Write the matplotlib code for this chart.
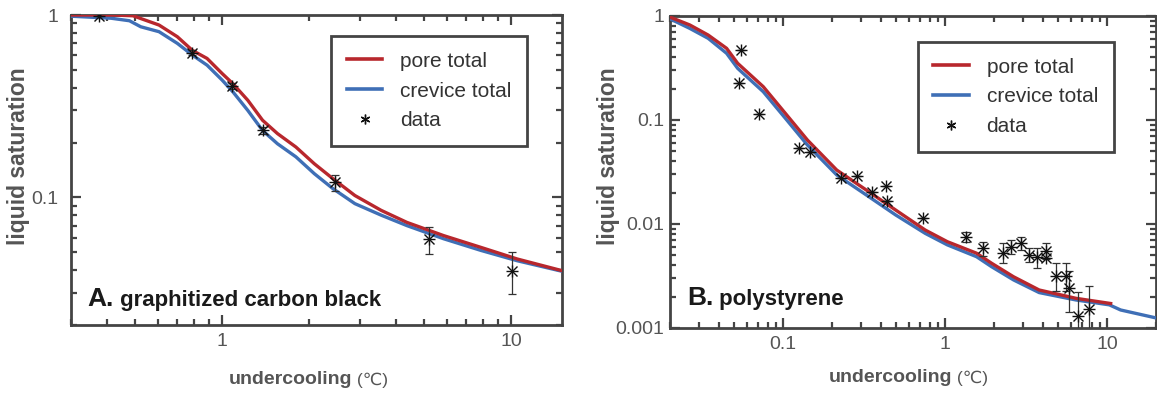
import matplotlib
matplotlib.use('Agg')
import matplotlib.pyplot as plt
from matplotlib.lines import Line2D
from matplotlib.ticker import LogLocator, NullFormatter

plt.rcParams['font.family'] = ['Liberation Sans', 'DejaVu Sans']

# Panel A: graphitized carbon black
a_pore_x = [0.30, 0.419, 0.492, 0.605, 0.70, 0.789, 0.887, 1.0, 1.09, 1.227, 1.38, 1.554,
            1.8, 2.085, 2.414, 2.88, 3.55, 4.36, 5.84, 7.85, 10.5, 15.0]
a_pore_y = [1.0, 1.0, 0.99, 0.881, 0.76, 0.64, 0.578, 0.478, 0.42, 0.341, 0.265, 0.224,
            0.189, 0.153, 0.127, 0.1025, 0.085, 0.073, 0.0618, 0.0533, 0.046, 0.0397]
a_crev_x = [0.30, 0.413, 0.478, 0.523, 0.605, 0.70, 0.789, 0.887, 1.0, 1.09, 1.227, 1.38,
            1.554, 1.8, 2.085, 2.414, 2.88, 3.55, 4.36, 5.84, 7.85, 10.5, 15.0]
a_crev_y = [0.985, 0.96, 0.93, 0.862, 0.81, 0.699, 0.603, 0.531, 0.44, 0.379, 0.30, 0.233,
            0.197, 0.167, 0.135, 0.112, 0.0925, 0.080, 0.0701, 0.0594, 0.0513, 0.045, 0.0394]
a_data_x = [0.375, 0.789, 1.08, 1.38, 2.45, 5.19, 10.1]
a_data_y = [0.99, 0.62, 0.407, 0.233, 0.121, 0.0594, 0.0397]
a_err_lo = [0.0, 0.02, 0.015, 0.01, 0.012, 0.0104, 0.0102]
a_err_hi = [0.0, 0.02, 0.015, 0.01, 0.011, 0.0092, 0.0103]

# Panel B: polystyrene
b_pore_x = [0.0197, 0.0265, 0.0344, 0.0447, 0.0523, 0.0753, 0.103, 0.141, 0.214, 0.326,
            0.495, 0.752, 1.03, 1.56, 1.93, 2.64, 3.8, 6.41, 10.5]
b_pore_y = [0.985, 0.82, 0.656, 0.489, 0.351, 0.209, 0.116, 0.0642, 0.033, 0.0212,
            0.0136, 0.00875, 0.00676, 0.00524, 0.0042, 0.00311, 0.00232, 0.00193, 0.00172]
b_crev_x = [0.0197, 0.0265, 0.0344, 0.0447, 0.0523, 0.0753, 0.103, 0.141, 0.214, 0.326,
            0.495, 0.752, 1.03, 1.56, 1.93, 2.64, 3.8, 6.41, 10.3, 12.1, 20.0]
b_crev_y = [0.95, 0.76, 0.61, 0.438, 0.314, 0.187, 0.104, 0.0575, 0.0296, 0.019,
            0.0122, 0.00813, 0.0063, 0.00485, 0.00389, 0.0029, 0.00219, 0.00186, 0.00167,
            0.00149, 0.00125]
b_data_x = [0.0545, 0.0536, 0.0707, 0.126, 0.147, 0.226, 0.286, 0.352, 0.428, 0.434, 0.725,
            1.35, 1.71, 2.27, 2.54, 2.92, 3.27, 3.7, 4.17, 4.2, 4.84, 5.53, 5.8, 6.61, 7.77]
b_data_y = [0.471, 0.228, 0.113, 0.0542, 0.0496, 0.0279, 0.029, 0.0202, 0.0234, 0.0165, 0.01135,
            0.00755, 0.00583, 0.0053, 0.00605, 0.00652, 0.00504, 0.00485, 0.00554, 0.00476,
            0.00318, 0.00318, 0.00241, 0.00131, 0.00152]
b_err_lo = [0, 0, 0, 0, 0, 0, 0, 0, 0, 0, 0,
            0.0008, 0.0009, 0.0011, 0.0009, 0.0009, 0.0007, 0.0011, 0.0009, 0.0, 0.0009,
            0.0009, 0.0010, 0.0004, 0.0006]
b_err_hi = [0, 0, 0, 0, 0, 0, 0, 0, 0, 0, 0,
            0.0009, 0.0009, 0.0012, 0.0010, 0.0009, 0.0008, 0.0010, 0.0010, 0.0, 0.0010,
            0.0010, 0.0011, 0.0009, 0.0010]

RED = '#b8272d'
BLUE = '#3f6fb6'
SPINE = '#444444'
TICKTXT = '#555555'

fig = plt.figure(figsize=(11.57, 3.94), dpi=100)
axA = fig.add_axes([71 / 1157, 69 / 394, 491 / 1157, 310 / 394])
axB = fig.add_axes([670 / 1157, 66 / 394, 486 / 1157, 312 / 394])


def style_axes(ax, ypad):
    ax.set_xscale('log')
    ax.set_yscale('log')
    for s in ax.spines.values():
        s.set_color(SPINE)
        s.set_linewidth(2.0)
    ax.tick_params(which='both', direction='in', top=True, right=True,
                   color=SPINE, width=1.6)
    ax.tick_params(which='major', length=7)
    ax.tick_params(which='minor', length=4)
    ax.tick_params(axis='x', labelsize=14, labelcolor=TICKTXT, pad=6)
    ax.tick_params(axis='y', labelsize=14, labelcolor=TICKTXT, pad=ypad)
    ax.xaxis.set_minor_locator(LogLocator(base=10, subs=range(2, 10), numticks=20))
    ax.yaxis.set_minor_locator(LogLocator(base=10, subs=range(2, 10), numticks=20))
    ax.xaxis.set_minor_formatter(NullFormatter())
    ax.yaxis.set_minor_formatter(NullFormatter())


def draw(ax, px, py, cx, cy, dx, dy, elo, ehi):
    ax.plot(cx, cy, color=BLUE, lw=2.4, zorder=3)
    ax.plot(px, py, color=RED, lw=2.4, zorder=4)
    ax.errorbar(dx, dy, yerr=[elo, ehi], fmt='none', ecolor='#333333',
                elinewidth=0.9, capsize=3, capthick=0.9, zorder=5)
    # asterisk markers
    ax.plot(dx, dy, ls='none', marker='+', ms=9, mew=1.0, color='#111111', zorder=6)
    ax.plot(dx, dy, ls='none', marker='x', ms=6.5, mew=1.0, color='#111111', zorder=6)


def legend(ax, anchor):
    handles = [Line2D([], [], color=RED, lw=2.6),
               Line2D([], [], color=BLUE, lw=2.6),
               Line2D([], [], ls='none', marker=(6, 2, 0), ms=7, mew=1.0, color='#111111')]
    leg = ax.legend(handles, ['pore total', 'crevice total', 'data'],
                    loc='upper left', bbox_to_anchor=anchor, borderaxespad=0,
                    fancybox=False, framealpha=1, edgecolor=SPINE,
                    fontsize=15, handlelength=1.7, handletextpad=0.85,
                    labelspacing=0.52, borderpad=0.75)
    leg.get_frame().set_linewidth(2.0)
    for t in leg.get_texts():
        t.set_color('#333333')
    leg.set_zorder(10)


# Panel A
style_axes(axA, 9)
draw(axA, a_pore_x, a_pore_y, a_crev_x, a_crev_y, a_data_x, a_data_y, a_err_lo, a_err_hi)
axA.set_xlim(0.3, 15)
axA.set_ylim(0.02, 1)
axA.set_xticks([1, 10], ['1', '10'])
axA.set_yticks([0.1, 1], ['0.1', '1'])
legend(axA, (0.53, 0.932))
tA = axA.text(0.033, 0.06, 'A.', transform=axA.transAxes, fontsize=19,
              fontweight='bold', color='#1a1a1a')
axA.annotate(' graphitized carbon black', xy=(1, 0), xycoords=tA, va='bottom',
             fontsize=16, fontweight='bold', color='#1a1a1a')

# Panel B
style_axes(axB, 4)
draw(axB, b_pore_x, b_pore_y, b_crev_x, b_crev_y, b_data_x, b_data_y, b_err_lo, b_err_hi)
axB.set_xlim(0.02, 20)
axB.set_ylim(0.001, 1)
axB.set_xticks([0.1, 1, 10], ['0.1', '1', '10'])
axB.set_yticks([0.001, 0.01, 0.1, 1], ['0.001', '0.01', '0.1', '1'])
legend(axB, (0.51, 0.917))
tB = axB.text(0.035, 0.075, 'B.', transform=axB.transAxes, fontsize=19,
              fontweight='bold', color='#1a1a1a')
axB.annotate(' polystyrene', xy=(1, 0), xycoords=tB, va='bottom',
             fontsize=16, fontweight='bold', color='#1a1a1a')

# axis titles
for xc in (19, 608):
    fig.text(xc / 1157, 1 - 156 / 394, 'liquid saturation', rotation=90,
             ha='center', va='center', fontsize=16.5, fontweight='bold', color='#555555')
for xc, yc in ((290, 380), (890, 378)):
    tx = fig.text(xc / 1157, 1 - yc / 394, 'undercooling', ha='center', va='center',
                  fontsize=14, fontweight='bold', color='#555555')
    fig.add_artist(matplotlib.text.Annotation(' (℃)', xy=(1, 0.5), xycoords=tx,
                                              va='center', fontsize=12.5, color='#555555'))

fig.savefig('out.png', dpi=100)
